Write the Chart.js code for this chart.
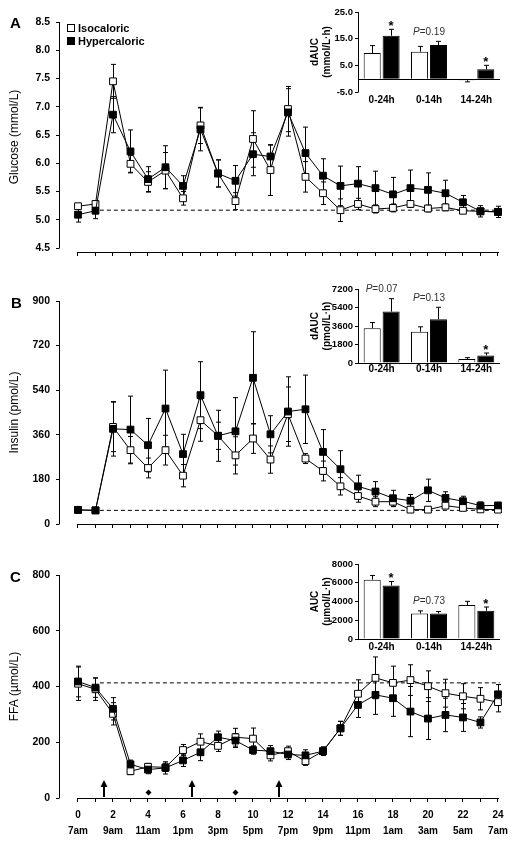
<!DOCTYPE html>
<html>
<head>
<meta charset="utf-8">
<script src="https://cdn.jsdelivr.net/npm/chart.js@4.4.1/dist/chart.umd.min.js"></script>
<style>
  body { margin: 0; background: #fff; }
  #wrap { position: relative; width: 517px; height: 845px; font-family: "Liberation Sans", Arial, sans-serif; }
  canvas { position: absolute; }
  .panel { position: absolute; font-weight: bold; font-size: 15px; line-height: 15px; }
</style>
</head>
<body>
<div id="wrap">
  <canvas id="glucose" width="517" height="270" style="left:0;top:0"></canvas>
  <canvas id="insulin" width="517" height="275" style="left:0;top:270px"></canvas>
  <canvas id="ffa" width="517" height="300" style="left:0;top:545px"></canvas>
  <canvas id="glucoseAuc" width="217" height="110" style="left:300px;top:0"></canvas>
  <canvas id="insulinAuc" width="217" height="100" style="left:300px;top:280px"></canvas>
  <canvas id="ffaAuc" width="217" height="100" style="left:300px;top:555px"></canvas>
  <div class="panel" style="left:10px;top:15px">A</div>
  <div class="panel" style="left:11px;top:295px">B</div>
  <div class="panel" style="left:10px;top:569px">C</div>
</div>
<script>
// time course, hours after 7am
const hours = [0,1,2,3,4,5,6,7,8,9,10,11,12,13,14,15,16,17,18,19,20,21,22,23,24];
const timeLabels = ['7am','9am','11am','1pm','3pm','5pm','7pm','9pm','11pm','1am','3am','5am','7am'];
const mealHours = [1.5, 6.5, 11.5];
const snackHours = [4, 9];

const glucoseIso = [5.24,5.28,7.45,5.99,5.67,5.87,5.38,6.67,5.82,5.33,6.43,5.88,6.96,5.76,5.47,5.17,5.28,5.19,5.21,5.28,5.20,5.22,5.16,5.15,5.14];
const glucoseIsoSem = [0.05,0.05,0.3,0.15,0.18,0.32,0.12,0.32,0.24,0.15,0.5,0.45,0.4,0.27,0.2,0.2,0.1,0.07,0.07,0.06,0.06,0.06,0.05,0.05,0.06];
const glucoseHyper = [5.09,5.16,6.86,6.21,5.72,5.93,5.60,6.60,5.82,5.69,6.16,6.12,6.90,6.18,5.78,5.60,5.64,5.56,5.45,5.56,5.53,5.47,5.31,5.15,5.14];
const glucoseHyperSem = [0.13,0.14,0.32,0.38,0.22,0.38,0.18,0.38,0.24,0.27,0.38,0.2,0.42,0.46,0.3,0.35,0.3,0.3,0.3,0.32,0.3,0.23,0.12,0.1,0.1];
const glucoseBase = 5.17;
const glucoseTicks = [4.5,5,5.5,6,6.5,7,7.5,8,8.5];

const insulinIso = [57,55,392,298,226,298,195,419,356,277,345,260,443,264,214,152,113,90,90,58,58,74,65,59,58];
const insulinIsoSem = [8,8,100,55,40,60,45,85,55,75,60,55,110,20,40,35,25,20,20,8,8,12,10,8,8];
const insulinHyper = [57,55,384,381,318,466,282,520,356,374,590,362,454,463,291,221,152,131,104,94,136,105,92,74,75];
const insulinHyperSem = [12,10,110,135,108,155,80,135,103,136,186,75,140,138,90,75,45,40,32,25,45,25,20,15,12];
const insulinBase = 55;
const insulinTicks = [0,180,360,540,720,900];

const ffaIso = [410,390,302,96,112,110,172,202,187,218,213,153,168,132,168,250,374,431,413,423,401,376,365,356,344];
const ffaIsoSem = [60,40,40,12,12,15,20,28,20,32,38,20,18,15,15,25,50,75,60,55,55,50,45,40,35];
const ffaHyper = [418,396,320,121,102,108,135,164,218,206,172,168,156,153,168,250,334,370,358,310,285,298,289,271,372];
const ffaHyperSem = [55,35,40,15,15,22,22,30,22,25,15,20,18,20,15,25,45,70,65,90,75,60,50,20,35];
const ffaBase = 413;
const ffaTicks = [0,200,400,600,800];

// area under the curve insets
const aucPeriods = ['0-24h','0-14h','14-24h'];
const glucoseAucIso = [9.6,10.1,-0.6];
const glucoseAucIsoSem = [2.8,2.0,0.6];
const glucoseAucHyper = [16.1,12.6,3.5];
const glucoseAucHyperSem = [2.4,1.4,1.5];
const glucoseAucTicks = [-5,0,5,10,15,20,25];
const insulinAucIso = [3390,3040,390];
const insulinAucIsoSem = [550,480,130];
const insulinAucHyper = [5000,4260,740];
const insulinAucHyperSem = [1260,1160,230];
const insulinAucTicks = [0,1800,3600,5400,7200];
const ffaAucIso = [6330,2720,3620];
const ffaAucIsoSem = [450,280,400];
const ffaAucHyper = [5700,2720,3010];
const ffaAucHyperSem = [430,220,400];
const ffaAucTicks = [0,2000,4000,6000,8000];

Chart.defaults.font.family = '"Liberation Sans", Arial, sans-serif';
Chart.defaults.color = '#000';

const errorBars = {
  id: 'errorBars',
  beforeDatasetsDraw(chart) {
    const ctx = chart.ctx;
    const isBar = chart.config.type === 'bar';
    ctx.save();
    ctx.strokeStyle = '#000';
    ctx.lineWidth = 1;
    chart.data.datasets.forEach((ds, di) => {
      if (!ds.sem) return;
      const meta = chart.getDatasetMeta(di);
      const ys = chart.scales[meta.yAxisID];
      meta.data.forEach((el, i) => {
        const v = isBar ? ds.data[i] : ds.data[i].y;
        const e = ds.sem[i];
        const x = Math.round(el.x) + 0.5;
        const ends = isBar ? [v, v < 0 ? v - e : v + e] : [v - e, v + e];
        const y1 = ys.getPixelForValue(ends[0]);
        const y2 = ys.getPixelForValue(ends[1]);
        ctx.beginPath();
        ctx.moveTo(x, y1);
        ctx.lineTo(x, y2);
        (isBar ? [y2] : [y1, y2]).forEach(cy => {
          ctx.moveTo(x - 2.5, cy);
          ctx.lineTo(x + 2.5, cy);
        });
        ctx.stroke();
      });
    });
    ctx.restore();
  }
};

const axisLines = {
  id: 'axisLines',
  afterDraw(chart) {
    const {ctx, chartArea: a, scales: {x, y}} = chart;
    const yt = y.ticks;
    ctx.save();
    ctx.strokeStyle = '#000';
    ctx.lineWidth = 1;
    ctx.beginPath();
    ctx.moveTo(a.left + 0.5, y.getPixelForValue(yt[0].value) + 0.5);
    ctx.lineTo(a.left + 0.5, y.getPixelForValue(yt[yt.length - 1].value));
    const by = Math.round(a.bottom) + 0.5;
    ctx.moveTo(x.getPixelForValue(hours[0]), by);
    ctx.lineTo(x.getPixelForValue(hours[hours.length - 1]) + 1, by);
    ctx.stroke();
    ctx.restore();
  }
};

const mealMarks = {
  id: 'mealMarks',
  afterDraw(chart) {
    const {ctx, chartArea: a, scales: {x}} = chart;
    const base = a.bottom - 1;
    ctx.save();
    ctx.fillStyle = '#000';
    ctx.strokeStyle = '#000';
    mealHours.forEach(h => {
      const px = Math.round(x.getPixelForValue(h));
      ctx.lineWidth = 2;
      ctx.beginPath();
      ctx.moveTo(px, base);
      ctx.lineTo(px, base - 11);
      ctx.stroke();
      ctx.beginPath();
      ctx.moveTo(px, base - 17);
      ctx.lineTo(px - 3.5, base - 10);
      ctx.lineTo(px + 3.5, base - 10);
      ctx.closePath();
      ctx.fill();
    });
    snackHours.forEach(h => {
      const px = Math.round(x.getPixelForValue(h)) + 0.5;
      ctx.beginPath();
      ctx.moveTo(px, base - 7.5);
      ctx.lineTo(px + 3, base - 4.5);
      ctx.lineTo(px, base - 1.5);
      ctx.lineTo(px - 3, base - 4.5);
      ctx.closePath();
      ctx.fill();
    });
    ctx.restore();
  }
};

const keyBox = {
  id: 'keyBox',
  afterDraw(chart, args, opts) {
    const ctx = chart.ctx;
    const rows = [chart.data.datasets[1], chart.data.datasets[0]];
    ctx.save();
    ctx.font = 'bold 11px "Liberation Sans", Arial, sans-serif';
    ctx.textBaseline = 'middle';
    rows.forEach((ds, i) => {
      const y = Math.round(opts.y + i * 13.3);
      ctx.fillStyle = '#000';
      ctx.fillRect(opts.x, y - 4, 8, 8);
      ctx.fillStyle = ds.pointBackgroundColor;
      ctx.fillRect(opts.x + 1, y - 3, 6, 6);
      ctx.fillStyle = '#000';
      ctx.fillText(ds.label, opts.x + 11, y + 0.5);
    });
    ctx.restore();
  }
};

const insetMarks = {
  id: 'insetMarks',
  afterDatasetsDraw(chart, args, opts) {
    const {ctx, chartArea: a, scales: {x, y}} = chart;
    const yt = y.ticks;
    ctx.save();
    ctx.strokeStyle = '#000';
    ctx.lineWidth = 1;
    ctx.beginPath();
    ctx.moveTo(a.left + 0.5, y.getPixelForValue(yt[0].value) + 0.5);
    ctx.lineTo(a.left + 0.5, y.getPixelForValue(yt[yt.length - 1].value));
    const y0 = Math.round(y.getPixelForValue(0)) + 0.5;
    ctx.moveTo(a.left, y0);
    ctx.lineTo(a.right, y0);
    ctx.stroke();

    const iso = chart.data.datasets[0], hyp = chart.data.datasets[1];
    const mh = chart.getDatasetMeta(1);
    opts.notes.forEach(n => {
      const tops = [iso.data[n.cat] + iso.sem[n.cat], hyp.data[n.cat] + hyp.sem[n.cat]];
      if (n.star) {
        const px = mh.data[n.cat].x;
        const py = y.getPixelForValue(tops[1]) - 6.5;
        ctx.font = 'bold 13px "Liberation Sans", Arial, sans-serif';
        ctx.fillStyle = '#000';
        ctx.textAlign = 'center';
        ctx.textBaseline = 'alphabetic';
        ctx.fillText('*', px, py + 7.4);
      } else {
        const px = x.getPixelForValue(n.cat);
        const py = y.getPixelForValue(Math.max(...tops)) - 10;
        ctx.fillStyle = '#333';
        ctx.textAlign = 'left';
        ctx.textBaseline = 'alphabetic';
        ctx.font = 'italic 10px "Liberation Sans", Arial, sans-serif';
        const wp = ctx.measureText('P').width;
        ctx.font = '10px "Liberation Sans", Arial, sans-serif';
        const rest = '=' + n.p;
        const wr = ctx.measureText(rest).width;
        const x0 = px - (wp + wr) / 2;
        ctx.font = 'italic 10px "Liberation Sans", Arial, sans-serif';
        ctx.fillText('P', x0, py + 3.6);
        ctx.font = '10px "Liberation Sans", Arial, sans-serif';
        ctx.fillText(rest, x0 + wp, py + 3.6);
      }
    });
    ctx.restore();
  }
};

function series(label, values, sem, fill) {
  return {
    label: label,
    data: hours.map((h, i) => ({x: h, y: values[i]})),
    sem: sem,
    borderColor: '#000',
    borderWidth: 1,
    pointStyle: 'rect',
    pointRadius: 4.8,
    pointBorderWidth: 1,
    pointBorderColor: '#000',
    pointBackgroundColor: fill,
    tension: 0,
    clip: false
  };
}

function drawMain(id, o) {
  return new Chart(document.getElementById(id), {
    type: 'line',
    data: {
      datasets: [
        series('Hypercaloric', o.hyper, o.hyperSem, '#000'),
        series('Isocaloric', o.iso, o.isoSem, '#fff'),
        {label: 'baseline', data: [{x: 1.25, y: o.base}, {x: 24.1, y: o.base}],
         borderColor: '#000', borderWidth: 1, borderDash: [4, 3], pointRadius: 0}
      ]
    },
    options: {
      responsive: false,
      animation: false,
      events: [],
      layout: {padding: {top: o.padTop, right: 11, left: 0, bottom: 0}},
      plugins: {
        legend: {display: false},
        tooltip: {enabled: false},
        keyBox: o.key ? {x: 67, y: 28} : false,
        mealMarks: o.meals ? {} : false
      },
      scales: {
        x: {
          type: 'linear',
          min: -19 / 17.5,
          max: 24.46,
          afterBuildTicks: s => { s.ticks = hours.map(v => ({value: v})); },
          afterFit: s => { s.height = o.xHeight; },
          border: {display: false},
          grid: {drawOnChartArea: false, tickLength: 4, color: '#000'},
          ticks: {
            autoSkip: false, maxRotation: 0, color: '#000', padding: 5,
            font: {size: 10, weight: 'bold', lineHeight: 1.6},
            callback: v => (o.xLabels && v % 2 === 0) ? [String(v), timeLabels[v / 2]] : ''
          }
        },
        y: {
          min: o.min,
          max: o.max,
          afterBuildTicks: s => { s.ticks = o.ticks.map(v => ({value: v})); },
          afterFit: s => { s.width = 59; },
          border: {display: false},
          grid: {drawOnChartArea: false, tickLength: 3, color: '#000'},
          ticks: {color: '#000', padding: 6, font: {size: 10.5, weight: 'bold'}, callback: o.fmt},
          title: {display: true, text: o.title, color: '#000', font: {size: 12}, padding: {top: 7}}
        }
      }
    },
    plugins: [errorBars, axisLines, mealMarks, keyBox]
  });
}

function drawInset(id, o) {
  const bar = {borderColor: '#000', borderWidth: 1, categoryPercentage: 0.8, barPercentage: 0.9};
  return new Chart(document.getElementById(id), {
    type: 'bar',
    data: {
      labels: aucPeriods,
      datasets: [
        Object.assign({label: 'Isocaloric', data: o.iso, sem: o.isoSem, backgroundColor: '#fff'}, bar),
        Object.assign({label: 'Hypercaloric', data: o.hyper, sem: o.hyperSem, backgroundColor: '#000'}, bar)
      ]
    },
    options: {
      responsive: false,
      animation: false,
      events: [],
      layout: {padding: {top: o.padTop, right: 17, left: 0, bottom: 0}},
      plugins: {legend: {display: false}, tooltip: {enabled: false}, insetMarks: {notes: o.notes}},
      scales: {
        x: {
          grid: {display: false, drawTicks: false},
          border: {display: false},
          afterFit: s => { s.height = o.xHeight; },
          ticks: {color: '#000', padding: o.labelPad, font: {size: 10, weight: 'bold'}}
        },
        y: {
          min: o.ticks[0],
          max: o.ticks[o.ticks.length - 1],
          afterBuildTicks: s => { s.ticks = o.ticks.map(v => ({value: v})); },
          afterFit: s => { s.width = 58; },
          border: {display: false},
          grid: {drawOnChartArea: false, tickLength: 3, color: '#000'},
          ticks: {color: '#000', padding: 2, font: {size: 9.5, weight: 'bold'}, callback: o.fmt},
          title: {display: true, text: o.title, color: '#000', font: {size: 10, weight: 'bold'}, padding: {top: 9}}
        }
      }
    },
    plugins: [errorBars, insetMarks]
  });
}

drawMain('glucose', {
  iso: glucoseIso, isoSem: glucoseIsoSem, hyper: glucoseHyper, hyperSem: glucoseHyperSem,
  base: glucoseBase, ticks: glucoseTicks, min: 4.43, max: 8.5, fmt: v => v.toFixed(1),
  title: 'Glucose (mmol/L)', padTop: 22, xHeight: 18, key: true
});
drawMain('insulin', {
  iso: insulinIso, isoSem: insulinIsoSem, hyper: insulinHyper, hyperSem: insulinHyperSem,
  base: insulinBase, ticks: insulinTicks, min: 0, max: 900, fmt: v => v,
  title: 'Insulin (pmol/L)', padTop: 31, xHeight: 21
});
drawMain('ffa', {
  iso: ffaIso, isoSem: ffaIsoSem, hyper: ffaHyper, hyperSem: ffaHyperSem,
  base: ffaBase, ticks: ffaTicks, min: 0, max: 800, fmt: v => v,
  title: 'FFA (µmol/L)', padTop: 30, xHeight: 47, xLabels: true, meals: true
});

drawInset('glucoseAuc', {
  iso: glucoseAucIso, isoSem: glucoseAucIsoSem, hyper: glucoseAucHyper, hyperSem: glucoseAucHyperSem,
  ticks: glucoseAucTicks, fmt: v => v === 0 ? '0' : v.toFixed(1), title: ['dAUC', '(mmol/L·h)'],
  padTop: 12, xHeight: 18, labelPad: 2.5,
  notes: [{cat: 0, star: true}, {cat: 1, p: '0.19'}, {cat: 2, star: true}]
});
drawInset('insulinAuc', {
  iso: insulinAucIso, isoSem: insulinAucIsoSem, hyper: insulinAucHyper, hyperSem: insulinAucHyperSem,
  ticks: insulinAucTicks, fmt: v => v, title: ['dAUC', '(pmol/L·h)'],
  padTop: 9, xHeight: 17, labelPad: 0,
  notes: [{cat: 0, p: '0.07'}, {cat: 1, p: '0.13'}, {cat: 2, star: true}]
});
drawInset('ffaAuc', {
  iso: ffaAucIso, isoSem: ffaAucIsoSem, hyper: ffaAucHyper, hyperSem: ffaAucHyperSem,
  ticks: ffaAucTicks, fmt: v => v, title: ['AUC', '(µmol/L·h)'],
  padTop: 9, xHeight: 16, labelPad: 2,
  notes: [{cat: 0, star: true}, {cat: 1, p: '0.73'}, {cat: 2, star: true}]
});
</script>
</body>
</html>
